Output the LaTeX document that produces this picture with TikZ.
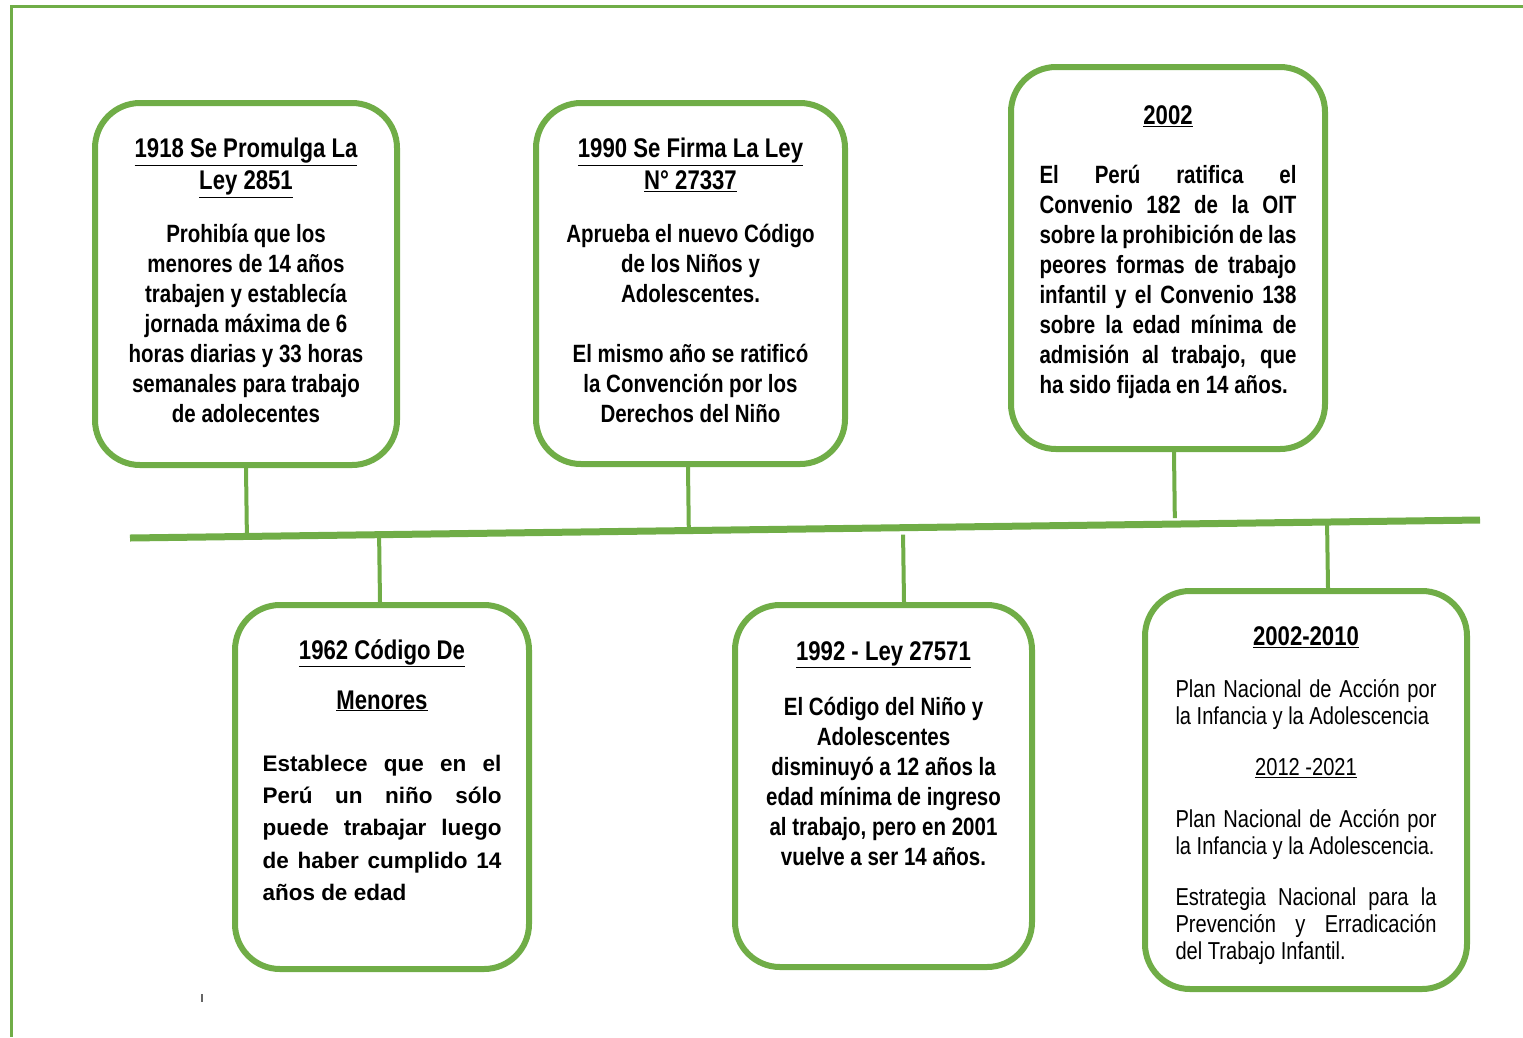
\documentclass[tikz,border=0pt]{standalone}
\usepackage{fontspec}
\setmainfont{Liberation Sans}
\newfontfamily\narrowfont{Liberation Sans}[FakeStretch=0.82]
\usetikzlibrary{positioning,calc}
\definecolor{lgreen}{HTML}{70AD47}
\newcommand{\ttlfont}{\narrowfont\bfseries\fontsize{27}{30}\selectfont}
\newcommand{\bodyfont}{\narrowfont\bfseries\fontsize{25}{30}\selectfont}
\newcommand{\planfont}{\narrowfont\fontsize{24.5}{27}\selectfont}
\newcommand{\widebfont}{\bfseries\fontsize{22.5}{32.25}\selectfont}
\newcommand{\jline}[2][257pt]{{\spaceskip=0pt\xspaceskip=0pt\makebox[#1][s]{#2}}}
\newcommand{\lline}[2][257pt]{{\spaceskip=0pt\xspaceskip=0pt\makebox[#1][l]{#2}}}

\begin{document}
\begin{tikzpicture}[x=1pt,y=-1pt,
  evbox/.style={draw=lgreen,line width=6pt,rounded corners=45pt,inner sep=0pt},
  evtext/.style={inner sep=0pt,text width=#1,align=flush center},
  stem/.style={draw=lgreen,line width=4pt},
  tline/.style={draw=lgreen,line width=7pt}]
\useasboundingbox (0,0) rectangle (1523,1037);
% marco
\draw[lgreen,line width=3pt] (1523,6) -- (11.5,6) -- (11.5,1037);

% cajas de arriba
\node[evbox,minimum width=302pt,minimum height=362pt] (b1918) at (246,284) {};
\node[evbox,minimum width=309pt,minimum height=361pt] (b1990) at (690.5,283.5) {};
\node[evbox,minimum width=314pt,minimum height=382pt] (b2002) at (1168,258) {};
% cajas de abajo
\node[evbox,minimum width=294pt,minimum height=364pt] (b1962) at (382,787) {};
\node[evbox,minimum width=297pt,minimum height=362pt] (b1992) at (883.5,786) {};
\node[evbox,minimum width=322pt,minimum height=398pt] (b2010) at (1306,790) {};

\node[evtext=290pt,font=\bodyfont,below=38pt of b1918.north] (t1918)
  {{\ttlfont\underline{1918 Se Promulga La}\\[2pt]\underline{Ley 2851}}\\[23pt]
   Prohibía que los\\menores de 14 años\\trabajen y establecía\\jornada máxima de 6\\
   horas diarias y 33 horas\\semanales para trabajo\\de adolecentes};
\node[evtext=295pt,font=\bodyfont,below=38pt of b1990.north] (t1990)
  {{\ttlfont\underline{1990 Se Firma La Ley}\\[2pt]\underline{N° 27337}}\\[23pt]
   Aprueba el nuevo Código\\de los Niños y\\Adolescentes.\\[30pt]
   El mismo año se ratificó\\la Convención por los\\Derechos del Niño};
\node[evtext=262pt,font=\bodyfont,below=41pt of b2002.north] (t2002)
  {{\ttlfont\underline{2002}}\\[29pt]
   \jline{El Perú ratifica el}\\ \jline{Convenio 182 de la OIT}\\
   \jline{sobre la prohibición de las}\\ \jline{peores formas de trabajo}\\
   \jline{infantil y el Convenio 138}\\ \jline{sobre la edad mínima de}\\
   \jline{admisión al trabajo, que}\\ \lline{ha sido fijada en 14 años.}};
\node[evtext=245pt,font=\widebfont,below=37pt of b1962.north] (t1962)
  {{\ttlfont\underline{1962 Código De}\\[17.75pt]\underline{Menores}}\\[30pt]
   \jline[239pt]{Establece que en el}\\ \jline[239pt]{Perú un niño sólo}\\
   \jline[239pt]{puede trabajar luego}\\ \jline[239pt]{de haber cumplido 14}\\
   \lline[239pt]{años de edad}};
\node[evtext=280pt,font=\bodyfont,below=39pt of b1992.north] (t1992)
  {{\ttlfont\underline{1992 - Ley 27571}}\\[25pt]
   El Código del Niño y\\Adolescentes\\disminuyó a 12 años la\\edad mínima de ingreso\\
   al trabajo, pero en 2001\\vuelve a ser 14 años.};
\node[evtext=265pt,font=\planfont,below=38pt of b2010.north] (t2010)
  {{\ttlfont\underline{2002-2010}}\\[25pt]
   \jline[261pt]{Plan Nacional de Acción por}\\ \lline[261pt]{la Infancia y la Adolescencia}\\[24pt]
   \underline{2012 -2021}\\[25pt]
   \jline[261pt]{Plan Nacional de Acción por}\\ \lline[261pt]{la Infancia y la Adolescencia.}\\[24pt]
   \jline[261pt]{Estrategia Nacional para la}\\ \jline[261pt]{Prevención y Erradicación}\\
   \lline[261pt]{del Trabajo Infantil.}};

% linea de tiempo
\coordinate (tlA) at (130,538);
\coordinate (tlB) at (1480,520);
\draw[tline] (tlA) -- (tlB);

\coordinate (s1918) at (b1918.south);
\coordinate (s1990) at ([xshift=-2.5pt]b1990.south);
\coordinate (s2002) at ([xshift=6pt]b2002.south);
\coordinate (s1962) at ([xshift=-2pt]b1962.north);
\coordinate (s1992) at ([xshift=20.5pt]b1992.north);
\coordinate (s2010) at ([xshift=22pt]b2010.north);
\draw[stem] (s1918) -- ($(tlA)!(s1918)!(tlB)$);
\draw[stem] (s1990) -- ($(tlA)!(s1990)!(tlB)$);
\draw[stem,shorten >=6pt] (s2002) -- ($(tlA)!(s2002)!(tlB)$);
\draw[stem] (s1962) -- ($(tlA)!(s1962)!(tlB)$);
\draw[stem,shorten >=7pt] (s1992) -- ($(tlA)!(s1992)!(tlB)$);
\draw[stem] (s2010) -- ($(tlA)!(s2010)!(tlB)$);

\draw[black!60,line width=1.2pt] (202,994) -- (202,1002);
\end{tikzpicture}
\end{document}
